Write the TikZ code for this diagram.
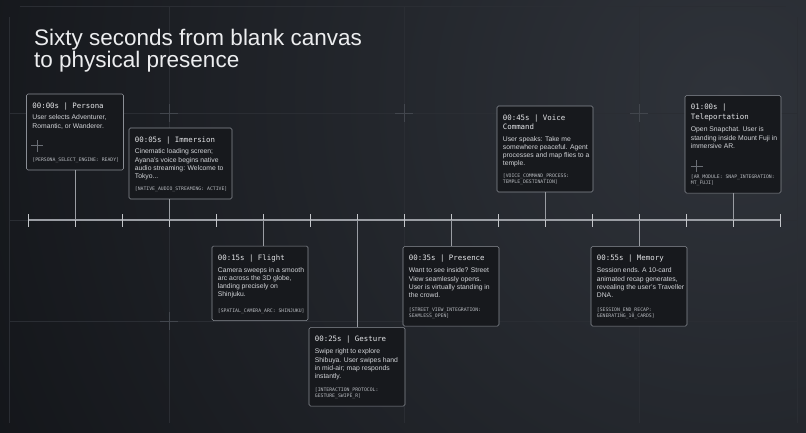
\documentclass[tikz,border=0pt]{standalone}
\usepackage{fontspec}
\setmainfont{Liberation Sans}
\newfontfamily\monofont{DejaVu Sans Mono}
\usetikzlibrary{positioning, calc}

\definecolor{bgbase}{HTML}{111317}
\definecolor{bgglow}{HTML}{2F333A}
\definecolor{gridcol}{HTML}{2A2D33}
\definecolor{haircol}{HTML}{42464D}
\definecolor{linecol}{HTML}{9A9DA3}
\definecolor{tickcol}{HTML}{C4C6CA}
\definecolor{cardfill}{HTML}{17191D}
\definecolor{cardline}{HTML}{8A8E95}
\definecolor{crosscol}{HTML}{6A6E75}
\definecolor{headcol}{HTML}{ECEDEF}
\definecolor{ttlcol}{HTML}{E4E5E8}
\definecolor{bodycol}{HTML}{D3D5D9}
\definecolor{tagcol}{HTML}{B8BBC0}

\begin{document}
\begin{tikzpicture}[
        x=1pt, y=-1pt,
        card/.style={draw=cardline, fill=cardfill, line width=0.6pt, rounded corners=1.5pt, minimum width=96pt, inner sep=0pt},
        ttl/.style={anchor=north west, inner sep=0pt, align=left, text=ttlcol, font=\monofont\fontsize{7.4}{9.6}\selectfont},
        body/.style={anchor=north west, inner sep=0pt, align=left, text=bodycol, font=\fontsize{6.8}{8.2}\selectfont},
        tag/.style={anchor=south west, inner sep=0pt, align=left, text=tagcol, font=\monofont\fontsize{4.8}{6}\selectfont},
        link/.style={draw=linecol, line width=0.7pt},
        axis/.style={draw=linecol, line width=1.3pt},
        tick/.style={draw=tickcol, line width=0.7pt},
        grid line/.style={draw=gridcol, line width=0.6pt},
        hair/.style={draw=haircol, line width=0.7pt},
        cross/.style={draw=crosscol, line width=0.5pt}
    ]

    % background and grid
    \useasboundingbox (0,0) rectangle (806,432);
    \fill[bgbase] (0,0) rectangle (806,432);
    \begin{scope}
        \clip (0,0) rectangle (806,432);
        \shade[inner color=bgglow, outer color=bgbase] (730,100) circle (900pt);
    \end{scope}
    \draw[grid line] (20,6) -- (786,6);
    \foreach \gy in {113,220,321} \draw[grid line] (9,\gy) -- (797,\gy);
    \foreach \gx in {9,797} \draw[grid line] (\gx,17) -- (\gx,423);
    \foreach \gx in {169,404,639} \draw[grid line] (\gx,6) -- (\gx,423);
    \foreach \hx/\hy in {169/113, 404/113, 639/113, 169/321}
        \draw[hair] ({\hx-9},\hy) -- ({\hx+9},\hy) (\hx,{\hy-9}) -- (\hx,{\hy+9});

    % headline
    \node[anchor=north west, inner sep=0pt, align=left, text=headcol, font=\fontsize{22.5}{22.5}\selectfont] (headline) at (34,28.6) {Sixty seconds from blank canvas\\to physical presence};

    % timeline
    \foreach \k in {0,...,16} \coordinate (t\k) at ({28+47*\k},220);
    \draw[axis] (t0) -- (t16);
    \foreach \k in {0,...,16} \draw[tick] ([yshift=6pt]t\k) -- ([yshift=-7pt]t\k);

    % cards above the line
    \node[card, minimum width=97pt, minimum height=76pt] (persona) at (75,132) {};
    \node[ttl] (persona-t) at ([shift={(6pt,-8.5pt)}]persona.north west) {00:00s | Persona};
    \node[body] (persona-b) at ([shift={(6pt,-21pt)}]persona.north west) {User selects Adventurer,\\Romantic, or Wanderer.};
    \coordinate (persona-x) at ([shift={(11pt,-52pt)}]persona.north west);
    \draw[cross] ([xshift=-6pt]persona-x) -- ([xshift=6pt]persona-x) ([yshift=-6pt]persona-x) -- ([yshift=6pt]persona-x);
    \node[tag] (persona-g) at ([shift={(6pt,7.5pt)}]persona.south west) {[PERSONA\_SELECT\_ENGINE: READY]};

    \node[card, minimum width=103pt, minimum height=71pt] (immersion) at (180.5,163.5) {};
    \node[ttl] (immersion-t) at ([shift={(6pt,-8.5pt)}]immersion.north west) {00:05s | Immersion};
    \node[body] (immersion-b) at ([shift={(6pt,-21pt)}]immersion.north west) {Cinematic loading screen;\\Ayana's voice begins native\\audio streaming: Welcome to\\Tokyo...};
    \node[tag] (immersion-g) at ([shift={(6pt,7.5pt)}]immersion.south west) {[NATIVE\_AUDIO\_STREAMING: ACTIVE]};

    \node[card, minimum height=86pt] (voice) at (545,149) {};
    \node[ttl] (voice-t) at ([shift={(6pt,-8.5pt)}]voice.north west) {00:45s | Voice\\Command};
    \node[body] (voice-b) at ([shift={(6pt,-30.5pt)}]voice.north west) {User speaks: Take me\\somewhere peaceful. Agent\\processes and map flies to a\\temple.};
    \node[tag] (voice-g) at ([shift={(6pt,7.5pt)}]voice.south west) {[VOICE\_COMMAND\_PROCESS:\\TEMPLE\_DESTINATION]};

    \node[card, minimum height=97.5pt] (teleport) at (733,144.3) {};
    \node[ttl] (teleport-t) at ([shift={(6pt,-8.5pt)}]teleport.north west) {01:00s |\\Teleportation};
    \node[body] (teleport-b) at ([shift={(6pt,-31.5pt)}]teleport.north west) {Open Snapchat. User is\\standing inside Mount Fuji in\\immersive AR.};
    \coordinate (teleport-x) at ([shift={(12pt,-70.5pt)}]teleport.north west);
    \draw[cross] ([xshift=-6pt]teleport-x) -- ([xshift=6pt]teleport-x) ([yshift=-6pt]teleport-x) -- ([yshift=6pt]teleport-x);
    \node[tag] (teleport-g) at ([shift={(6pt,7.5pt)}]teleport.south west) {[AR\_MODULE: SNAP\_INTEGRATION:\\MT\_FUJI]};

    % cards below the line
    \node[card, minimum height=74.5pt] (flight) at (260,283.3) {};
    \node[ttl] (flight-t) at ([shift={(6pt,-8.5pt)}]flight.north west) {00:15s | Flight};
    \node[body] (flight-b) at ([shift={(6pt,-21.5pt)}]flight.north west) {Camera sweeps in a smooth\\arc across the 3D globe,\\landing precisely on\\Shinjuku.};
    \node[tag] (flight-g) at ([shift={(6pt,7.5pt)}]flight.south west) {[SPATIAL\_CAMERA\_ARC: SHINJUKU]};

    \node[card, minimum height=78.5pt] (gesture) at (357,366.8) {};
    \node[ttl] (gesture-t) at ([shift={(6pt,-8.5pt)}]gesture.north west) {00:25s | Gesture};
    \node[body] (gesture-b) at ([shift={(6pt,-21.5pt)}]gesture.north west) {Swipe right to explore\\Shibuya. User swipes hand\\in mid-air; map responds\\instantly.};
    \node[tag] (gesture-g) at ([shift={(6pt,7.5pt)}]gesture.south west) {[INTERACTION\_PROTOCOL:\\GESTURE\_SWIPE\_R]};

    \node[card, minimum height=79.5pt] (presence) at (451,286.3) {};
    \node[ttl] (presence-t) at ([shift={(6pt,-8.5pt)}]presence.north west) {00:35s | Presence};
    \node[body] (presence-b) at ([shift={(6pt,-21.5pt)}]presence.north west) {Want to see inside? Street\\View seamlessly opens.\\User is virtually standing in\\the crowd.};
    \node[tag] (presence-g) at ([shift={(6pt,7.5pt)}]presence.south west) {[STREET\_VIEW\_INTEGRATION:\\SEAMLESS\_OPEN]};

    \node[card, minimum height=79.5pt] (memory) at (639,286.3) {};
    \node[ttl] (memory-t) at ([shift={(6pt,-8.5pt)}]memory.north west) {00:55s | Memory};
    \node[body] (memory-b) at ([shift={(6pt,-21.5pt)}]memory.north west) {Session ends. A 10-card\\animated recap generates,\\revealing the user's Traveller\\DNA.};
    \node[tag] (memory-g) at ([shift={(6pt,7.5pt)}]memory.south west) {[SESSION\_END\_RECAP:\\GENERATING\_10\_CARDS]};

    % connectors to the line
    \draw[link] (t1 |- persona.south) -- (t1);
    \draw[link] (t3 |- immersion.south) -- (t3);
    \draw[link] (t11 |- voice.south) -- (t11);
    \draw[link] (t15 |- teleport.south) -- (t15);
    \draw[link] (t5) -- (t5 |- flight.north);
    \draw[link] (t7) -- (t7 |- gesture.north);
    \draw[link] (t9) -- (t9 |- presence.north);
    \draw[link] (t13) -- (t13 |- memory.north);

\end{tikzpicture}
\end{document}
